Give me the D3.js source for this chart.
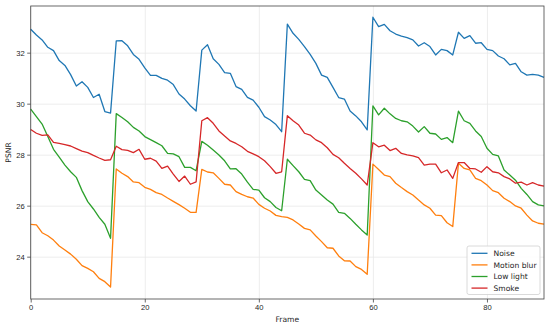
<!DOCTYPE html>
<html>
<head>
<meta charset="utf-8">
<script src="https://cdn.jsdelivr.net/npm/d3@7"></script>
<style>
  body { margin: 0; background: #fff; }
  svg { font-family: "DejaVu Sans", sans-serif; }
  .axis text { font-size: 7.6px; fill: #262626; }
  .axis line { stroke: #444; stroke-width: 0.8; }
  .axis path { display: none; }
  .grid line { stroke: #e9e9e9; stroke-width: 0.8; }
  .grid path { display: none; }
  .line { fill: none; stroke-width: 1.3; stroke-linejoin: round; }
</style>
</head>
<body>
<svg id="chart"></svg>
<script>
const SERIES_NAMES = ['Noise', 'Motion blur', 'Low light', 'Smoke'];
const COLORS = ['#1f77b4', '#ff7f0e', '#2ca02c', '#d62728'];

const X_TICKS = [0, 20, 40, 60, 80];
const Y_TICKS = [24, 26, 28, 30, 32];

// frame 0..90
const noise = [
	32.92, 32.69, 32.5, 32.21, 32.08, 31.69, 31.5, 31.14, 30.69, 30.86, 30.64, 30.24, 30.37, 29.69, 29.63,
	32.46, 32.47, 32.27, 31.93, 31.74, 31.4, 31.11, 31.11, 30.99, 30.92, 30.75, 30.38, 30.18, 29.92, 29.71,
	32.1, 32.31, 31.76, 31.54, 31.22, 31.19, 30.67, 30.56, 30.25, 30.14, 29.86, 29.49, 29.36, 29.18, 28.9,
	33.12, 32.76, 32.52, 32.24, 31.93, 31.58, 31.12, 31.03, 30.64, 30.24, 30.18, 29.71, 29.52, 29.29, 28.97,
	33.39, 33.02, 33.11, 32.86, 32.73, 32.65, 32.59, 32.5, 32.26, 32.39, 32.24, 31.91, 32.13, 32.08, 31.91,
	32.8, 32.56, 32.67, 32.37, 32.39, 32.13, 32.08, 31.87, 31.76, 31.52, 31.58, 31.25, 31.12, 31.15, 31.12, 31.03
];
const motionBlur = [
	25.27, 25.25, 24.94, 24.82, 24.65, 24.42, 24.26, 24.1, 23.9, 23.65, 23.54, 23.41, 23.15, 23.02, 22.81,
	27.44, 27.27, 27.14, 26.93, 26.9, 26.72, 26.64, 26.51, 26.44, 26.3, 26.17, 26.04, 25.9, 25.74, 25.74,
	27.42, 27.32, 27.29, 27.07, 26.84, 26.81, 26.55, 26.44, 26.35, 26.3, 26.05, 25.9, 25.79, 25.62, 25.57,
	25.54, 25.44, 25.28, 25.11, 25.05, 24.81, 24.59, 24.35, 24.33, 24.03, 23.84, 23.83, 23.61, 23.5, 23.31,
	27.63, 27.42, 27.2, 27.14, 26.88, 26.71, 26.55, 26.42, 26.22, 26.03, 25.9, 25.63, 25.61, 25.33, 25.18,
	27.66, 27.46, 27.4, 27.07, 26.98, 26.81, 26.59, 26.51, 26.29, 26.16, 25.99, 25.9, 25.63, 25.4, 25.31, 25.28
];
const lowLight = [
	29.79, 29.49, 29.2, 28.71, 28.21, 27.9, 27.59, 27.33, 27.11, 26.59, 26.16, 25.87, 25.54, 25.27, 24.72,
	29.61, 29.46, 29.29, 29.07, 28.93, 28.71, 28.59, 28.47, 28.35, 28.05, 28.03, 27.92, 27.5, 27.5, 27.37,
	28.52, 28.37, 28.18, 27.99, 27.76, 27.44, 27.45, 27.24, 26.92, 26.64, 26.61, 26.31, 26.16, 25.93, 25.8,
	27.82, 27.57, 27.33, 27.03, 26.98, 26.61, 26.42, 26.22, 26.06, 25.74, 25.7, 25.5, 25.27, 25.05, 24.85,
	29.91, 29.56, 29.82, 29.6, 29.42, 29.33, 29.29, 29.12, 28.89, 29.1, 28.84, 28.81, 28.6, 28.67, 28.47,
	29.71, 29.33, 29.23, 28.93, 28.71, 28.25, 28.01, 27.95, 27.4, 27.2, 27.0, 26.68, 26.44, 26.16, 26.03, 25.99
];
const smoke = [
	28.99, 28.84, 28.76, 28.78, 28.48, 28.44, 28.39, 28.34, 28.24, 28.14, 28.08, 27.97, 27.87, 27.78, 27.8,
	28.33, 28.2, 28.17, 28.08, 28.21, 27.82, 27.86, 27.75, 27.46, 27.55, 27.24, 26.95, 27.16, 26.84, 26.93,
	29.33, 29.45, 29.23, 28.93, 28.73, 28.54, 28.44, 28.31, 28.13, 28.03, 27.92, 27.76, 27.53, 27.27, 27.33,
	29.53, 29.33, 29.16, 28.84, 28.77, 28.58, 28.47, 28.27, 28.01, 27.88, 27.66, 27.46, 27.27, 27.05, 26.81,
	28.47, 28.31, 28.37, 28.16, 28.25, 28.05, 27.99, 27.95, 27.88, 27.59, 27.63, 27.63, 27.29, 27.4, 27.07,
	27.69, 27.69, 27.46, 27.44, 27.31, 27.53, 27.33, 27.29, 27.14, 27.05, 26.88, 26.92, 26.81, 26.9, 26.81, 26.77
];

const SVG_WIDTH = 550;
const SVG_HEIGHT = 327;
const MARGIN = { top: 6, right: 6, bottom: 28, left: 30.7 };
const WIDTH = SVG_WIDTH - MARGIN.left - MARGIN.right;
const HEIGHT = SVG_HEIGHT - MARGIN.top - MARGIN.bottom;

const x = d3.scaleLinear().domain([0, 90]).range([0, WIDTH]);
const y = d3.scaleLinear().domain([22.34, 33.83]).range([HEIGHT, 0]);

const svg = d3.select('#chart')
	.attr('width', SVG_WIDTH)
	.attr('height', SVG_HEIGHT)
.append('g')
	.attr('transform', 'translate(' + MARGIN.left + ', ' + MARGIN.top + ')');

// grid
svg.append('g')
	.attr('class', 'grid')
	.attr('transform', 'translate(0, ' + HEIGHT + ')')
	.call(d3.axisBottom(x).tickValues(X_TICKS).tickSize(-HEIGHT).tickFormat(''));
svg.append('g')
	.attr('class', 'grid')
	.call(d3.axisLeft(y).tickValues(Y_TICKS).tickSize(-WIDTH).tickFormat(''));

// lines
const allSeries = [noise, motionBlur, lowLight, smoke];
const line = d3.line()
	.x((d, i) => x(i))
	.y(d => y(d));

svg.selectAll('.line')
	.data(allSeries)
	.enter()
	.append('path')
		.attr('class', 'line')
		.style('stroke', (d, i) => COLORS[i])
		.attr('d', d => line(d));

// axes
svg.append('g')
	.attr('class', 'axis')
	.attr('transform', 'translate(0, ' + HEIGHT + ')')
	.call(d3.axisBottom(x).tickValues(X_TICKS).tickSize(3.5).tickPadding(2.5).tickFormat(d3.format('d')));

svg.append('g')
	.attr('class', 'axis')
	.call(d3.axisLeft(y).tickValues(Y_TICKS).tickSize(3.5).tickPadding(2.5).tickFormat(d3.format('d')));

// spines
svg.append('rect')
	.attr('width', WIDTH)
	.attr('height', HEIGHT)
	.attr('fill', 'none')
	.attr('stroke', '#444')
	.attr('stroke-width', 0.8);

svg.append('text')
	.attr('text-anchor', 'middle')
	.attr('x', WIDTH / 2)
	.attr('y', HEIGHT + 23)
	.style('font-size', '7.6px')
	.style('fill', '#262626')
	.text('Frame');

svg.append('text')
	.attr('transform', 'rotate(-90)')
	.attr('x', -(HEIGHT / 2) + 0)
	.attr('y', -MARGIN.left + 11)
	.attr('text-anchor', 'middle')
	.style('font-size', '7.6px')
	.style('fill', '#262626')
	.text('PSNR');

// legend
const legend = svg.append('g')
	.attr('transform', 'translate(' + (WIDTH - 77) + ', ' + (HEIGHT - 53) + ')');

legend.append('rect')
	.attr('width', 73)
	.attr('height', 48.5)
	.attr('rx', 2)
	.attr('fill', 'white')
	.attr('fill-opacity', 0.85)
	.attr('stroke', '#d0d0d0')
	.attr('stroke-width', 0.8);

const items = legend.selectAll('.legend-item')
	.data(SERIES_NAMES)
	.enter()
	.append('g')
		.attr('class', 'legend-item')
		.attr('transform', (d, i) => 'translate(0, ' + (7.3 + i * 11.6) + ')');

items.append('line')
	.attr('x1', 4.5)
	.attr('x2', 20.5)
	.attr('stroke', (d, i) => COLORS[i])
	.attr('stroke-width', 1.3);

items.append('text')
	.attr('x', 26.5)
	.attr('dy', '.35em')
	.style('font-size', '7.6px')
	.style('fill', '#262626')
	.text(d => d);
</script>
</body>
</html>
